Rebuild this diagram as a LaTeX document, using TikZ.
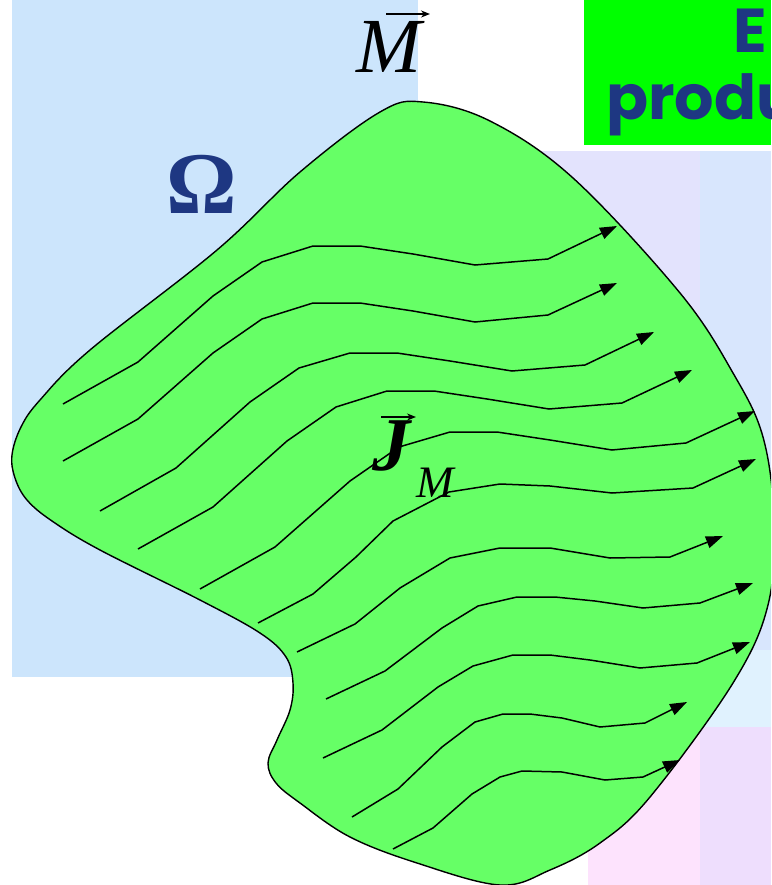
\documentclass[tikz,border=0pt]{standalone}
\usepackage{fontspec}
\usetikzlibrary{arrows.meta}
\newfontfamily\tms{Liberation Serif}
\newfontfamily\comicf{Poppins}
\definecolor{bgblue}{RGB}{204,229,252}
\definecolor{bglav}{RGB}{227,227,253}
\definecolor{bgrblue}{RGB}{216,230,253}
\definecolor{bgcyan}{RGB}{224,242,254}
\definecolor{bgpink}{RGB}{253,227,253}
\definecolor{bglilac}{RGB}{238,222,253}
\definecolor{shapegreen}{RGB}{102,255,102}
\definecolor{boxgreen}{RGB}{0,255,0}
\definecolor{navy}{RGB}{30,55,130}
\tikzset{
  flow/.style={line width=1.5pt, -{Triangle[length=17pt,width=12pt]}},
  lbl/.style={inner sep=0pt, anchor=base west},
}
\begin{document}
\begin{tikzpicture}[x=1pt,y=-1pt]
\useasboundingbox (0,0) rectangle (771,885);
\clip (0,0) rectangle (771,885);
% backgrounds
\fill[bgblue] (12,0) rectangle (418,677);
\fill[boxgreen] (584,0) rectangle (771,145);
\fill[bglav] (540,151) rectangle (700,650);
\fill[bgrblue] (700,151) rectangle (771,650);
\fill[bgcyan] (540,650) rectangle (771,727);
\fill[bgpink] (588,727) rectangle (700,885);
\fill[bglilac] (700,727) rectangle (771,885);
% texts in the green box
\node[lbl, text=navy, font=\comicf\bfseries\fontsize{62}{62}\selectfont] (e) at (733,53) {E};
\node[lbl, text=navy, font=\comicf\bfseries\fontsize{62}{62}\selectfont] (prod) at (606,120) {produ};
% shape
\draw[fill=shapegreen, line width=1.4pt] plot[smooth cycle, tension=0.6] coordinates {
 (423,102) (490,121) (573,178) (680,293) (733,373) (763,437)
 (774,520) (768,605) (733,683) (650,797) (600,843) (550,870)
 (500,885) (417,863) (350,837) (300,803) (276,783) (268,763) (277,740) (290,710)
 (293,683) (286,657) (260,633) (200,600) (100,550) (52,521) (27,500) (15,478)
 (12,455) (21,427) (40,400) (90,350) (217,250) (300,172) (380,112)};
% flow lines
\draw[flow] plot coordinates {(63,404) (138,362) (213,296) (262,262) (313,246) (360,246) (413,254) (475,265) (548,259) (617,226)};
\draw[flow] plot coordinates {(63,461) (138,419) (213,353) (262,319) (313,303) (360,303) (413,311) (475,322) (548,315) (617,283)};
\draw[flow] plot coordinates {(100,511) (176,468) (250,402) (299,368) (350,353) (397,353) (450,361) (512,371) (585,365) (654,332)};
\draw[flow] plot coordinates {(138,549) (213,507) (287,441) (336,407) (387,391) (434,391) (487,399) (549,409) (622,403) (692,370)};
\draw[flow] plot coordinates {(200,589) (275,547) (350,481) (399,447) (450,432) (497,432) (550,440) (612,450) (686,443) (755,411)};
\draw[flow] plot coordinates {(258,623) (313,594) (356,557) (393,521) (449,492) (500,484) (550,486) (612,493) (693,488) (756,459)};
\draw[flow] plot coordinates {(297,652) (355,624) (400,588) (450,558) (500,548) (550,548) (610,558) (670,557) (723,536)};
\draw[flow] plot coordinates {(326,699) (385,671) (442,628) (478,606) (517,597) (555,597) (595,601) (643,608) (700,603) (753,583)};
\draw[flow] plot coordinates {(323,758) (382,730) (438,687) (473,666) (513,655) (550,655) (590,660) (640,668) (697,663) (750,642)};
\draw[flow] plot coordinates {(352,817) (398,789) (442,747) (475,722) (503,714) (530,714) (562,718) (600,727) (645,723) (687,702)};
\draw[flow] plot coordinates {(393,849) (433,828) (472,794) (500,777) (522,771) (562,772) (605,780) (643,777) (680,760)};
% labels
\node[lbl, font=\tms\itshape\fontsize{78}{78}\selectfont] (m) at (356,73) {M};
\draw[line width=2.2pt, -{Stealth[length=9pt,width=7pt]}] (386,14) -- (430,14);
\node[lbl, text=navy, font=\tms\bfseries\fontsize{88}{88}\selectfont] (om) at (166,214) {Ω};
\node[lbl, font=\tms\bfseries\itshape\fontsize{76}{76}\selectfont] (j) at (372,470) {J};
\node[lbl, font=\tms\itshape\fontsize{45}{45}\selectfont] (jm) at (416,497) {M};
\draw[line width=2.2pt, -{Stealth[length=9pt,width=7pt]}] (381,417) -- (416,417);
\end{tikzpicture}
\end{document}
